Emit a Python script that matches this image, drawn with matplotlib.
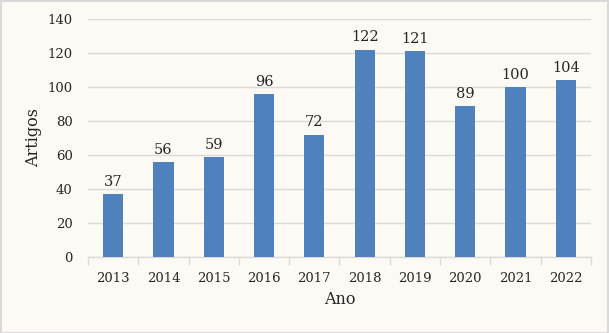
import matplotlib
matplotlib.use("Agg")
import matplotlib.pyplot as plt
from matplotlib.patches import Rectangle

years = ["2013", "2014", "2015", "2016", "2017", "2018", "2019", "2020", "2021", "2022"]
articles = [37, 56, 59, 96, 72, 122, 121, 89, 100, 104]
y_ticks = [0, 20, 40, 60, 80, 100, 120, 140]

bg = "#FDFAF5"
bar_color = "#4F81BD"
text_color = "#262626"
grid_color = "#DCDAD6"

plt.rcParams["font.family"] = ["DejaVu Serif"]

fig = plt.figure(figsize=(6.09, 3.33), dpi=100, facecolor=bg)
ax = fig.add_axes([0.1445, 0.2282, 0.8259, 0.7148], facecolor=bg)

x = list(range(len(years)))
bars = ax.bar(x, articles, width=0.4, color=bar_color, zorder=3)
for xi, v in zip(x, articles):
    ax.text(xi, v + 3, str(v), ha="center", va="bottom", fontsize=10.5,
            color=text_color)

ax.set_xlim(-0.5, len(years) - 0.5)
ax.set_ylim(0, 140)
ax.set_yticks(y_ticks)
ax.set_yticklabels([str(t) for t in y_ticks], fontsize=9.5, color=text_color)
ax.yaxis.grid(True, color=grid_color, linewidth=1, zorder=0)
ax.tick_params(axis="y", length=0, pad=11)

# category labels centred under bars, ticks at category boundaries
ax.set_xticks(x)
ax.set_xticklabels(years, fontsize=9.5, color=text_color)
ax.tick_params(axis="x", which="major", length=0, pad=11)
ax.set_xticks([i - 0.5 for i in range(len(years) + 1)], minor=True)
ax.tick_params(axis="x", which="minor", length=6, color=grid_color, width=1)

for side in ["top", "right", "left"]:
    ax.spines[side].set_visible(False)
ax.spines["bottom"].set_color(grid_color)
ax.spines["bottom"].set_linewidth(1)

ax.set_xlabel("Ano", fontsize=11.5, color=text_color, labelpad=4)
ax.set_ylabel("Artigos", fontsize=11.5, color=text_color, labelpad=4)

fig.patches.append(Rectangle((0.001, 0.001), 0.997, 0.996, transform=fig.transFigure,
                             fill=False, edgecolor="#D9D9D9", linewidth=1.5))

fig.savefig("out.png", dpi=100, facecolor=bg)
